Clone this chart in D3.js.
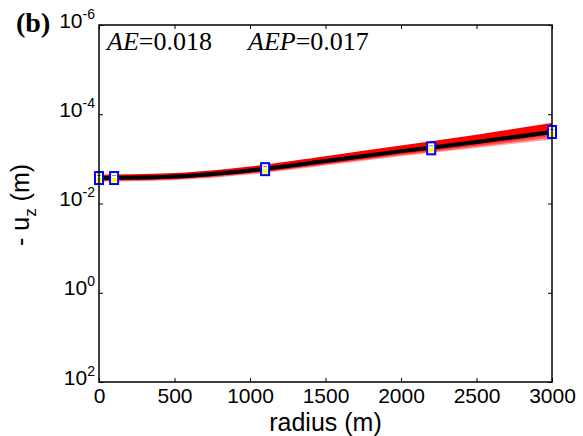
<!DOCTYPE html>
<meta charset="utf-8">
<style>
body { margin: 0; background: #fff; }
.axis text { font-family: "Liberation Sans", Arial, sans-serif; font-size: 21px; fill: #000; }
.axis path, .axis line { stroke: #000; }
.stat { font-family: "Liberation Serif", "Times New Roman", serif; font-size: 26px; }
</style>
<svg width="583" height="436"></svg>
<script src="https://d3js.org/d3.v7.min.js"></script>
<script>

// radius nodes (m)
var radii = [0, 500, 1000, 1500, 2000, 2500, 3000];

// best-fit model (-u_z, m)
var bestFit = [2.69e-3, 2.48e-3, 1.82e-3, 1.12e-3, 6.7e-4, 4.2e-4, 2.5e-4];

// ensemble of sampled models (-u_z, m)
var ensemble = [
  [2.45e-3, 2.25e-3, 1.60e-3, 0.94e-3, 0.54e-3, 0.31e-3, 0.17e-3],
  [2.52e-3, 2.32e-3, 1.67e-3, 1.00e-3, 0.58e-3, 0.345e-3, 0.195e-3],
  [2.58e-3, 2.38e-3, 1.72e-3, 1.04e-3, 0.61e-3, 0.37e-3, 0.215e-3],
  [2.62e-3, 2.42e-3, 1.76e-3, 1.08e-3, 0.64e-3, 0.395e-3, 0.235e-3],
  [2.75e-3, 2.54e-3, 1.87e-3, 1.16e-3, 0.70e-3, 0.44e-3, 0.265e-3],
  [2.82e-3, 2.60e-3, 1.93e-3, 1.20e-3, 0.73e-3, 0.465e-3, 0.285e-3],
  [2.90e-3, 2.68e-3, 2.00e-3, 1.25e-3, 0.77e-3, 0.495e-3, 0.31e-3],
  [3.00e-3, 2.78e-3, 2.08e-3, 1.31e-3, 0.81e-3, 0.525e-3, 0.34e-3]
];
var ensembleOpacity = [1, 1, 1, 1, 0.8, 0.6, 0.45, 0.35];

// observations
var obsRadius = [0, 100, 1100, 2200, 3000];
var obsValue = [2.69e-3, 2.69e-3, 1.7e-3, 5.8e-4, 2.5e-4];

var xTicks = [0, 500, 1000, 1500, 2000, 2500, 3000];
var yTicks = [1e-6, 1e-4, 1e-2, 1e0, 1e2];
var yTickExp = ["-6", "-4", "-2", "0", "2"];

var svg = d3.select("svg");
var plotL = 99, plotR = 552, plotT = 25, plotB = 382;

var x = d3.scaleLinear().domain([0, 3000]).range([plotL, plotR]);
var y = d3.scaleLog().domain([1e-6, 1e2]).range([plotT, plotB]);

var line = d3.line()
    .x(function(d) { return x(d[0]); })
    .y(function(d) { return y(d[1]); })
    .curve(d3.curveMonotoneX);

// ensemble
svg.append("g")
  .selectAll("path")
  .data(ensemble)
  .enter().append("path")
    .attr("d", function(s) { return line(s.map(function(v, i) { return [radii[i], v]; })); })
    .attr("fill", "none")
    .attr("stroke", "#ff0000")
    .attr("stroke-opacity", function(d, i) { return ensembleOpacity[i]; })
    .attr("stroke-width", 3);

// best fit
svg.append("path")
    .attr("d", line(bestFit.map(function(v, i) { return [radii[i], v]; })))
    .attr("fill", "none")
    .attr("stroke", "#000")
    .attr("stroke-width", 4);

// observation markers
var obs = svg.append("g")
  .selectAll("g")
  .data(obsRadius.map(function(r, i) { return [r, obsValue[i]]; }))
  .enter().append("g")
    .attr("transform", function(d) { return "translate(" + x(d[0]) + "," + y(d[1]) + ")"; });
obs.append("rect")
    .attr("x", -4).attr("y", -6).attr("width", 8).attr("height", 12)
    .attr("fill", "#fff").attr("stroke", "#0000ff").attr("stroke-width", 2);
obs.append("line")
    .attr("x1", -2).attr("x2", 2).attr("y1", -2.5).attr("y2", -2.5)
    .attr("stroke", "#888").attr("stroke-width", 1);
obs.append("rect")
    .attr("x", -2.5).attr("y", 0).attr("width", 5).attr("height", 4.5)
    .attr("fill", "#ffff00");

// box
svg.append("rect")
    .attr("x", plotL).attr("y", plotT)
    .attr("width", plotR - plotL).attr("height", plotB - plotT)
    .attr("fill", "none").attr("stroke", "#000").attr("stroke-width", 1.5);

// axes
svg.append("g")
    .attr("class", "axis")
    .attr("transform", "translate(0," + plotB + ")")
    .call(d3.axisBottom(x).tickValues(xTicks).tickSize(-4).tickPadding(6).tickFormat(d3.format("d")))
  .select(".domain").remove();

svg.append("g")
    .attr("class", "axis")
    .attr("transform", "translate(0," + plotT + ")")
    .call(d3.axisTop(x).tickValues(xTicks).tickSize(-4).tickFormat(""))
  .select(".domain").remove();

svg.append("g")
    .attr("class", "axis")
    .attr("transform", "translate(" + plotR + ",0)")
    .call(d3.axisRight(y).tickValues(yTicks).tickSize(-4).tickFormat(""))
  .select(".domain").remove();

var yAxis = svg.append("g")
    .attr("class", "axis")
    .attr("transform", "translate(" + plotL + ",0)")
    .call(d3.axisLeft(y).tickValues(yTicks).tickSize(-4).tickFormat(""));
yAxis.select(".domain").remove();

yAxis.selectAll(".tick text").each(function(d, i) {
  var t = d3.select(this)
      .attr("x", -4)
      .attr("dy", null)
      .attr("y", 2)
      .attr("text-anchor", "end");
  t.append("tspan").text("10");
  t.append("tspan")
      .attr("dy", -9)
      .attr("font-size", 14)
      .text(yTickExp[i]);
});

// axis titles
svg.append("text")
    .attr("x", (plotL + plotR) / 2)
    .attr("y", 431)
    .attr("text-anchor", "middle")
    .attr("font-family", "Liberation Sans, Arial, sans-serif")
    .attr("font-size", 25)
    .text("radius (m)");

var yl = svg.append("text")
    .attr("transform", "translate(29,205) rotate(-90)")
    .attr("text-anchor", "middle")
    .attr("font-family", "Liberation Sans, Arial, sans-serif")
    .attr("font-size", 25);
yl.append("tspan").text("- u");
yl.append("tspan").attr("dy", 7).attr("font-size", 17).text("z");
yl.append("tspan").attr("dy", -7).text(" (m)");

// panel label
svg.append("text")
    .attr("x", 16)
    .attr("y", 32)
    .attr("font-family", "Liberation Serif, Times New Roman, serif")
    .attr("font-weight", "bold")
    .attr("font-size", 28)
    .text("(b)");

// fit statistics
var s1 = svg.append("text").attr("class", "stat").attr("x", 107).attr("y", 50);
s1.append("tspan").attr("font-style", "italic").text("AE");
s1.append("tspan").text("=0.018");

var s2 = svg.append("text").attr("class", "stat").attr("x", 248).attr("y", 50);
s2.append("tspan").attr("font-style", "italic").text("AEP");
s2.append("tspan").text("=0.017");

</script>
